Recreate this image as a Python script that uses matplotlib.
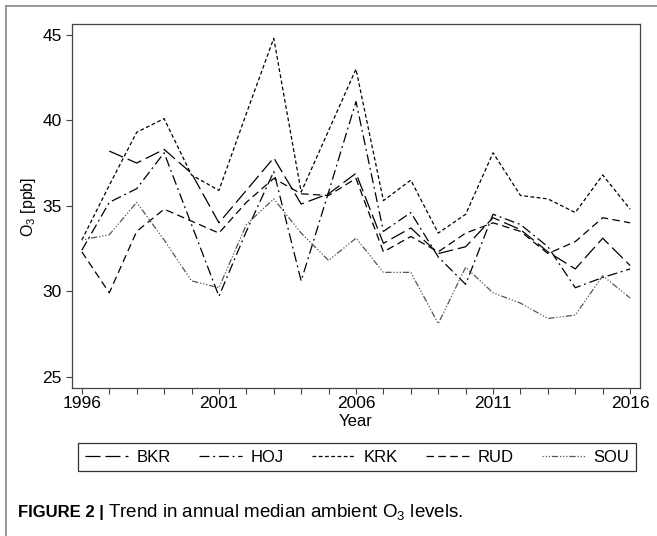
import matplotlib
matplotlib.use("Agg")
import matplotlib.pyplot as plt
import numpy as np
from matplotlib.lines import Line2D

plt.rcParams["font.family"] = ["Liberation Sans", "DejaVu Sans"]
plt.rcParams["mathtext.fontset"] = "custom"
plt.rcParams["mathtext.rm"] = "Liberation Sans"
plt.rcParams["mathtext.it"] = "Liberation Sans"

years = list(range(1996, 2017))

bkr = [np.nan, 38.2, 37.5, 38.3, 36.9, 34.0, 35.9, 37.8, 35.1, 35.7, 36.9,
       32.8, 33.7, 32.2, 32.6, 34.3, 33.6, 32.3, 31.3, 33.1, 31.5]
hoj = [32.4, 35.2, 36.0, 38.1, 33.9, 29.7, 33.5, 37.0, 30.6, 35.8, 41.1,
       33.5, 34.6, 32.0, 30.4, 34.5, 33.9, 32.6, 30.2, 30.8, 31.3]
krk = [33.0, 36.2, 39.3, 40.1, 36.8, 35.9, 40.4, 44.8, 35.8, 39.4, 43.0,
       35.3, 36.5, 33.4, 34.5, 38.1, 35.6, 35.4, 34.6, 36.8, 34.8]
rud = [32.3, 29.9, 33.5, 34.8, 34.1, 33.4, 35.2, 36.6, 35.7, 35.6, 36.6,
       32.3, 33.2, 32.3, 33.4, 34.0, 33.5, 32.2, 32.9, 34.3, 34.0]
sou = [33.0, 33.3, 35.2, 33.0, 30.6, 30.2, 33.9, 35.4, 33.4, 31.8, 33.1,
       31.1, 31.1, 28.1, 31.4, 29.9, 29.3, 28.4, 28.6, 30.9, 29.6]

stations = ["BKR", "HOJ", "KRK", "RUD", "SOU"]
series = [bkr, hoj, krk, rud, sou]
dashes = [(12, 4), (8, 3, 1.5, 3), (3, 2), (6, 3.5),
          (1, 1.5, 1, 1.5, 1, 1.5, 5, 1.5)]
colors = ["black", "black", "black", "black", "#555555"]

W, H = 657, 536
fig = plt.figure(figsize=(W / 100, H / 100), dpi=100)

ax_l, ax_r, ax_t, ax_b = 72, 640, 24, 388
ax = fig.add_axes([ax_l / W, 1 - ax_b / H, (ax_r - ax_l) / W, (ax_b - ax_t) / H])

handles = []
for name, vals, d, c in zip(stations, series, dashes, colors):
    ln, = ax.plot(years, vals, color=c, lw=0.9, dashes=d, label=name)
    handles.append(ln)

ax.set_xlim(1995.64, 2016.36)
ax.set_ylim(24.33, 45.64)
ax.set_xticks([1996, 2001, 2006, 2011, 2016])
ax.set_xticks(years, minor=True)
ax.set_yticks([25, 30, 35, 40, 45])
ax.tick_params(axis="both", which="both", direction="out", length=4,
               width=0.8, color="#444444", labelsize=12.5)
ax.tick_params(axis="x", pad=2)
for sp in ax.spines.values():
    sp.set_color("#444444")
    sp.set_linewidth(0.9)

fig.text(29 / W, 1 - 207 / H, r"O$_3$ [ppb]", rotation=90, ha="center",
         va="center", fontsize=11.5)
fig.text((ax_l + ax_r) / 2 / W, 1 - 422 / H, "Year", ha="center",
         va="center", fontsize=12)

leg = fig.legend(handles, stations, loc="center", ncol=5, mode="expand",
                 bbox_to_anchor=(78 / W, 1 - 473 / H, (636 - 78) / W, 32 / H),
                 fontsize=12, handlelength=2.6, handletextpad=0.5,
                 frameon=True, fancybox=False, borderaxespad=0)
leg.get_frame().set_edgecolor("black")
leg.get_frame().set_linewidth(0.9)

# outer border (left and top)
fig.add_artist(Line2D([6 / W, 6 / W], [0, 1 - 6 / H], color="#888888",
                      lw=1.2, transform=fig.transFigure))
fig.add_artist(Line2D([6 / W, 1], [1 - 6 / H, 1 - 6 / H], color="#888888",
                      lw=1.2, transform=fig.transFigure))

t1 = fig.text(18 / W, 1 - 512 / H, "FIGURE 2 |", fontsize=12,
              fontweight="bold", ha="left", va="center")
fig.canvas.draw()
bb = t1.get_window_extent()
fig.text((bb.x1 + 4) / W, 1 - 512 / H,
         r"Trend in annual median ambient O$_3$ levels.",
         fontsize=13.5, ha="left", va="center")

fig.savefig("out.png", dpi=100)
